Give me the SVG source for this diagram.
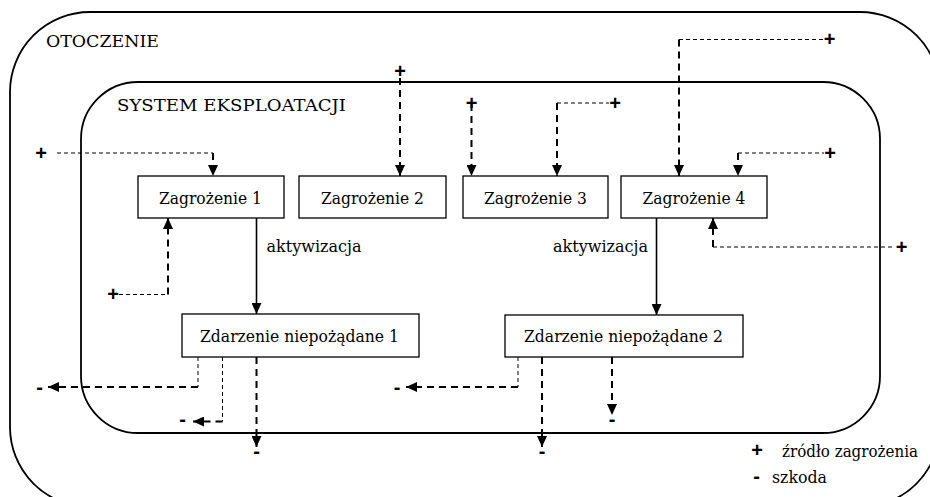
<svg xmlns="http://www.w3.org/2000/svg" width="930" height="497" viewBox="0 0 930 497">
  <style>
    .frame { fill: none; stroke: #000; stroke-width: 1.8; }
    .box { fill: #fff; stroke: #000; stroke-width: 1.3; }
    .lbl { font-family: "DejaVu Serif", serif; font-size: 17.5px; fill: #000; }
    .sym { font-family: "Liberation Sans", sans-serif; font-size: 20px; font-weight: bold; fill: #000; text-anchor: middle; }
    .solid { fill: none; stroke: #000; stroke-width: 1.6; }
    .thin { fill: none; stroke: #000; stroke-width: 1; stroke-dasharray: 4 3; }
    .thick { fill: none; stroke: #000; stroke-width: 2; stroke-dasharray: 7 5; }
  </style>
  <defs>
    <marker id="arrow" viewBox="0 0 11 10" refX="11" refY="5" markerWidth="11" markerHeight="10" markerUnits="userSpaceOnUse" orient="auto">
      <path d="M0,0 L11,5 L0,10 z" fill="#000"/>
    </marker>
  </defs>

  <!-- environment and system frames -->
  <g id="otoczenie">
    <rect class="frame" x="10" y="12" width="930" height="495" rx="80" ry="80"/>
    <text class="lbl" x="46" y="47" textLength="113" lengthAdjust="spacingAndGlyphs">OTOCZENIE</text>
  </g>
  <g id="system">
    <rect class="frame" x="81" y="82" width="799" height="351" rx="57" ry="57"/>
    <text class="lbl" x="117" y="111" textLength="229" lengthAdjust="spacingAndGlyphs">SYSTEM EKSPLOATACJI</text>
  </g>

  <!-- connectors -->
  <g id="connectors">
    <!-- hazard sources into threats -->
    <path class="thin" d="M57,153 H213"/>
    <path class="thick" d="M213,153 V176" marker-end="url(#arrow)"/>
    <path class="thick" d="M400,78 V176" marker-end="url(#arrow)"/>
    <path class="thick" d="M471.5,104 V176" marker-end="url(#arrow)"/>
    <path class="thin" d="M557,103 H609"/>
    <path class="thick" d="M557,103 V176" marker-end="url(#arrow)"/>
    <path class="thin" d="M679,39.5 H823"/>
    <path class="thick" d="M679,39.5 V176" marker-end="url(#arrow)"/>
    <path class="thin" d="M738,153 H824"/>
    <path class="thick" d="M738,153 V176" marker-end="url(#arrow)"/>
    <path class="thin" d="M713,247 H895"/>
    <path class="thick" d="M713,247 V218" marker-end="url(#arrow)"/>
    <path class="thin" d="M119,294.5 H168"/>
    <path class="thick" d="M168,294.5 V218" marker-end="url(#arrow)"/>

    <!-- activation -->
    <path class="solid" d="M256.5,218 V314" marker-end="url(#arrow)"/>
    <path class="solid" d="M656.5,218 V315" marker-end="url(#arrow)"/>

    <!-- damage outputs -->
    <path class="thin" d="M198,357 V387"/>
    <path class="thick" d="M198,387 H48" marker-end="url(#arrow)"/>
    <path class="thin" d="M222.5,357 V421.5"/>
    <path class="thick" d="M222.5,421.5 H193" marker-end="url(#arrow)"/>
    <path class="thick" d="M256.5,357 V447" marker-end="url(#arrow)"/>
    <path class="thin" d="M518,357 V387"/>
    <path class="thick" d="M518,387 H406" marker-end="url(#arrow)"/>
    <path class="thick" d="M542,357 V447" marker-end="url(#arrow)"/>
    <path class="thick" d="M612,357 V415" marker-end="url(#arrow)"/>

    <text class="lbl" x="266.5" y="252" textLength="95" lengthAdjust="spacingAndGlyphs">aktywizacja</text>
    <text class="lbl" x="553" y="252" textLength="95" lengthAdjust="spacingAndGlyphs">aktywizacja</text>

    <!-- source / damage marks -->
    <text class="sym" x="41" y="159.8">+</text>
    <text class="sym" x="400" y="78.3">+</text>
    <text class="sym" x="471.5" y="109.8">+</text>
    <text class="sym" x="615" y="109.8">+</text>
    <text class="sym" x="829.5" y="46.3">+</text>
    <text class="sym" x="830" y="159.8">+</text>
    <text class="sym" x="901.5" y="253.8">+</text>
    <text class="sym" x="113" y="301.3">+</text>
    <text class="sym" x="39.5" y="394.3">-</text>
    <text class="sym" x="182.5" y="426.3">-</text>
    <text class="sym" x="256.5" y="458">-</text>
    <text class="sym" x="397" y="394.3">-</text>
    <text class="sym" x="542" y="458">-</text>
    <text class="sym" x="612" y="426">-</text>
  </g>

  <!-- threats -->
  <g id="zagrozenie1">
    <rect class="box" x="138" y="176" width="146" height="42"/>
    <text class="lbl" x="159" y="203.5" textLength="103" lengthAdjust="spacingAndGlyphs">Zagrożenie 1</text>
  </g>
  <g id="zagrozenie2">
    <rect class="box" x="299" y="176" width="147" height="42"/>
    <text class="lbl" x="321" y="203.5" textLength="103" lengthAdjust="spacingAndGlyphs">Zagrożenie 2</text>
  </g>
  <g id="zagrozenie3">
    <rect class="box" x="463" y="176" width="145" height="42"/>
    <text class="lbl" x="484" y="203.5" textLength="103" lengthAdjust="spacingAndGlyphs">Zagrożenie 3</text>
  </g>
  <g id="zagrozenie4">
    <rect class="box" x="621" y="176" width="146" height="42"/>
    <text class="lbl" x="642.5" y="203.5" textLength="103" lengthAdjust="spacingAndGlyphs">Zagrożenie 4</text>
  </g>

  <!-- undesired events -->
  <g id="zdarzenie1">
    <rect class="box" x="182" y="314" width="237" height="43"/>
    <text class="lbl" x="200" y="341.5" textLength="199" lengthAdjust="spacingAndGlyphs">Zdarzenie niepożądane 1</text>
  </g>
  <g id="zdarzenie2">
    <rect class="box" x="505" y="315" width="238" height="42"/>
    <text class="lbl" x="524" y="341.5" textLength="199" lengthAdjust="spacingAndGlyphs">Zdarzenie niepożądane 2</text>
  </g>

  <!-- legend -->
  <g id="legenda">
    <text class="sym" x="757" y="456.8">+</text>
    <text class="lbl" x="782" y="457" textLength="136" lengthAdjust="spacingAndGlyphs">źródło zagrożenia</text>
    <text class="sym" x="756.5" y="483">-</text>
    <text class="lbl" x="772" y="483" textLength="55" lengthAdjust="spacingAndGlyphs">szkoda</text>
  </g>
</svg>
